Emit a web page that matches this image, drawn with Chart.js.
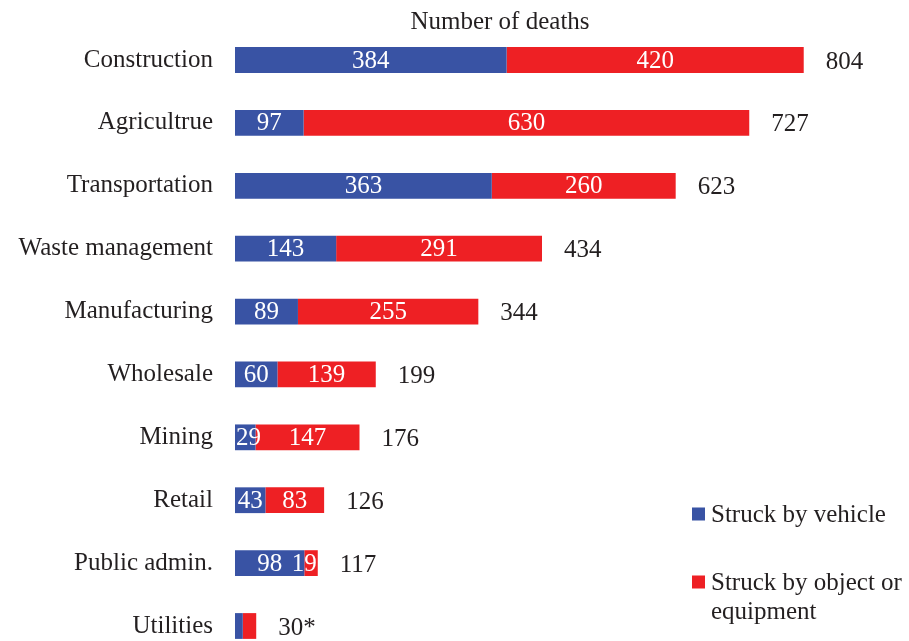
<!DOCTYPE html>
<html><head><meta charset="utf-8">
<script src="https://cdn.jsdelivr.net/npm/chart.js@4/dist/chart.umd.min.js"></script>
<style>html,body{margin:0;padding:0;background:#fff;overflow:hidden}#wrap{width:909px;height:641px;position:relative}</style>
</head><body><div id="wrap"><canvas id="c"></canvas></div>
<script>
const categories = ['Construction','Agricultrue','Transportation','Waste management','Manufacturing','Wholesale','Mining','Retail','Public admin.','Utilities'];
const vehicle = [384,97,363,143,89,60,29,43,98,11];
const objectEquip = [420,630,260,291,255,139,147,83,19,19];
const totalNotes = ['','','','','','','','','','*'];
const seriesNames = ['Struck by vehicle','Struck by object or equipment'];
const chartTitle = 'Number of deaths';
const colors = ['#3953a4','#ee2024'];
const textColor = '#231f20';
const FONT = "'Liberation Serif','Times New Roman',serif";

Chart.defaults.font.family = FONT;
Chart.defaults.font.size = 25;
Chart.defaults.color = textColor;

const labelPlugin = {
  id: 'customLabels',
  afterDatasetsDraw(chart) {
    const ctx = chart.ctx;
    const m0 = chart.getDatasetMeta(0), m1 = chart.getDatasetMeta(1);
    ctx.save();
    ctx.font = '25px ' + FONT;
    ctx.textBaseline = 'middle';
    categories.forEach((c, i) => {
      const total = vehicle[i] + objectEquip[i];
      if (total >= 50) {
        [m0, m1].forEach((m, d) => {
          const el = m.data[i];
          const p = el.getProps(['x','y','base'], true);
          const txt = String(chart.data.datasets[d].data[i]);
          const w = ctx.measureText(txt).width;
          ctx.fillStyle = '#ffffff';
          if (w + 2 > p.x - p.base) {
            if (d === 0) { ctx.textAlign = 'left'; ctx.fillText(txt, p.base + 1, p.y + 1); }
            else { ctx.textAlign = 'right'; ctx.fillText(txt, p.x - 1, p.y + 1); }
          } else {
            ctx.textAlign = 'center';
            ctx.fillText(txt, (p.x + p.base) / 2, p.y + 1);
          }
        });
      }
      const last = m1.data[i].getProps(['x','y'], true);
      ctx.fillStyle = textColor;
      ctx.textAlign = 'left';
      ctx.fillText(String(total) + totalNotes[i], last.x + 22, last.y + 2);
    });
    // title
    ctx.textAlign = 'center';
    ctx.fillText(chartTitle, chart.chartArea.left + 265, 22);
    // legend
    const lx = 692, sq = 13;
    const legendY = [514, 582];
    chart.data.datasets.forEach((ds, d) => {
      ctx.fillStyle = ds.backgroundColor;
      ctx.fillRect(lx, legendY[d] - sq / 2, sq, sq);
      ctx.fillStyle = textColor;
      ctx.textAlign = 'left';
      const words = ds.label.split(' ');
      let lines = [], cur = '';
      words.forEach(w => {
        const t = cur ? cur + ' ' + w : w;
        if (ctx.measureText(t).width > 196 && cur) { lines.push(cur); cur = w; } else cur = t;
      });
      lines.push(cur);
      lines.forEach((ln, k) => ctx.fillText(ln, lx + 19, legendY[d] + 1 + k * 29));
    });
    ctx.restore();
  }
};

new Chart(document.getElementById('c'), {
  type: 'bar',
  data: {
    labels: categories,
    datasets: [
      { label: seriesNames[0], data: vehicle, backgroundColor: colors[0], barPercentage: 0.41, categoryPercentage: 1, clip: false },
      { label: seriesNames[1], data: objectEquip, backgroundColor: colors[1], barPercentage: 0.41, categoryPercentage: 1, clip: false }
    ]
  },
  options: {
    indexAxis: 'y',
    responsive: true,
    maintainAspectRatio: false,
    animation: false,
    layout: { padding: { top: 60, bottom: 15, left: 0, right: 2 } },
    plugins: { legend: { display: false }, tooltip: { enabled: false }, title: { display: false } },
    scales: {
      x: { stacked: true, display: false, min: 0, max: 950 },
      y: {
        stacked: true, offset: false,
        grid: { display: false, drawTicks: false },
        border: { display: false },
        ticks: { padding: 22, color: textColor, font: { size: 25, family: FONT } },
        afterFit(scale) { scale.width = 235; scale.paddingTop = 0; scale.paddingBottom = 0; }
      }
    }
  },
  plugins: [labelPlugin]
});
</script></body></html>
